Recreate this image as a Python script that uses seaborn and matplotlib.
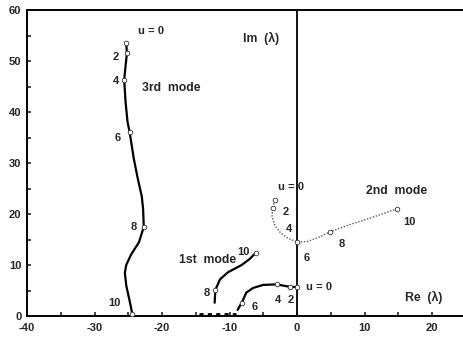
import numpy as np
import pandas as pd
import matplotlib
matplotlib.use("Agg")
import matplotlib.pyplot as plt
import seaborn as sns
from matplotlib.ticker import MultipleLocator

sns.set_theme(style="white")
plt.rcParams["font.family"] = ["Liberation Sans", "DejaVu Sans"]
plt.rcParams["font.weight"] = "bold"
plt.rcParams["axes.unicode_minus"] = False

# Eigenvalue loci lambda(u) in the complex plane
mode3_re = [-25.3, -25.2, -25.4, -25.6, -25.4, -25.1, -24.8, -24.2, -23.6, -23.0, -22.8,
            -22.7, -23.4, -24.6, -25.3, -25.5, -25.3, -24.8, -24.4]
mode3_im = [53.5, 51.5, 49.0, 46.3, 42.0, 38.0, 36.1, 31.0, 27.0, 23.5, 21.0,
            17.5, 14.5, 12.0, 10.0, 8.5, 6.0, 3.0, 0.4]
mode3_u_re = [-25.3, -25.2, -25.6, -24.8, -22.7, -24.4]
mode3_u_im = [53.5, 51.5, 46.3, 36.1, 17.5, 0.4]

mode2_re = [-3.3, -3.6, -3.7, -3.3, -2.5, -1.4, 0.0, 1.5, 3.0, 4.9, 8.0, 11.5, 14.8]
mode2_im = [22.7, 21.2, 19.5, 17.8, 16.4, 15.3, 14.5, 14.6, 15.3, 16.5, 18.0, 19.5, 21.0]
mode2_u_re = [-3.3, -3.6, 0.0, 4.9, 14.8]
mode2_u_im = [22.7, 21.2, 14.5, 16.5, 21.0]

mode1a_re = [0.0, -1.0, -3.0, -5.0, -6.5, -7.5, -8.2, -8.8]
mode1a_im = [5.7, 5.7, 6.2, 6.1, 5.5, 4.6, 2.6, 1.2]
mode1a_u_re = [0.0, -1.0, -3.0, -8.2]
mode1a_u_im = [5.7, 5.7, 6.2, 2.6]

mode1b_re = [-12.2, -12.1, -11.4, -10.2, -8.2, -7.0, -6.1]
mode1b_im = [2.6, 5.1, 7.2, 8.6, 10.0, 11.2, 12.4]
mode1b_u_re = [-12.1, -6.1]
mode1b_u_im = [5.1, 12.4]

real_re = [-14.5, -9.0]
real_im = [0.4, 0.4]

fig = plt.figure(figsize=(4.64, 3.39), dpi=100)
ax = fig.add_axes([27 / 464, 23 / 339, 1 - 27 / 464, 306 / 339])

def locus(re, im, **kw):
    df = pd.DataFrame({"re": re, "im": im})
    sns.lineplot(data=df, x="re", y="im", sort=False, estimator=None, ax=ax, **kw)

def marks(re, im):
    df = pd.DataFrame({"re": re, "im": im})
    sns.scatterplot(data=df, x="re", y="im", ax=ax, marker="o", s=11,
                    facecolor="white", edgecolor="#333333", linewidth=0.6, zorder=5)

locus(mode3_re, mode3_im, color="black", linewidth=1.6)
marks(mode3_u_re, mode3_u_im)
locus(mode2_re, mode2_im, color="#555555", linewidth=1.0, linestyle=(0, (1, 1.2)))
marks(mode2_u_re, mode2_u_im)
locus(mode1a_re, mode1a_im, color="black", linewidth=1.6)
marks(mode1a_u_re, mode1a_u_im)
locus(mode1b_re, mode1b_im, color="black", linewidth=1.6)
marks(mode1b_u_re, mode1b_u_im)
locus(real_re, real_im, color="black", linewidth=2.0, linestyle=(0, (1.5, 1.5)))

# imaginary axis
ax.axvline(0, color="black", linewidth=1.3)

ax.set_xlim(-40, 24.74)
ax.set_ylim(0, 60)
ax.xaxis.set_major_locator(MultipleLocator(10))
ax.xaxis.set_minor_locator(MultipleLocator(5))
ax.yaxis.set_major_locator(MultipleLocator(10))
ax.yaxis.set_minor_locator(MultipleLocator(5))
ax.tick_params(which="both", direction="in", length=3, width=1.2, labelsize=8,
               bottom=True, left=True, top=False, right=False)
ax.tick_params(axis="x", pad=5)
ax.tick_params(axis="y", pad=4)
for lab in ax.get_xticklabels() + ax.get_yticklabels():
    lab.set_fontweight("bold")
for side in ["left", "bottom", "top"]:
    ax.spines[side].set_color("black")
    ax.spines[side].set_linewidth(1.4)
ax.spines["right"].set_visible(False)
ax.set_xlabel("")
ax.set_ylabel("")

fs = 8.8
def lbl(x, y, s, size=fs):
    ax.text(x, y, s, fontsize=size, fontweight="bold", ha="center", va="center")

lbl(-5.3, 54.4, "Im  (λ)")
lbl(18.8, 3.7, "Re  (λ)")
lbl(-18.7, 44.7, "3rd  mode")
lbl(-13.3, 11.0, "1st  mode")
lbl(14.8, 24.5, "2nd  mode")

us = 8
# u labels, 3rd mode
lbl(-21.7, 55.8, "u = 0", us)
lbl(-26.8, 50.8, "2", us)
lbl(-26.8, 46.0, "4", us)
lbl(-26.5, 34.9, "6", us)
lbl(-24.2, 17.5, "8", us)
lbl(-27.0, 2.5, "10", us)
# u labels, 2nd mode
lbl(-0.9, 25.2, "u = 0", us)
lbl(-1.7, 20.4, "2", us)
lbl(-1.2, 17.0, "4", us)
lbl(1.5, 11.3, "6", us)
lbl(6.7, 14.1, "8", us)
lbl(16.6, 18.5, "10", us)
# u labels, 1st mode
lbl(-8.0, 12.6, "10", us)
lbl(-13.3, 4.5, "8", us)
lbl(-6.3, 1.8, "6", us)
lbl(-2.8, 3.1, "4", us)
lbl(-0.9, 3.1, "2", us)
lbl(3.3, 5.6, "u = 0", us)

fig.savefig("out.png", dpi=100)
